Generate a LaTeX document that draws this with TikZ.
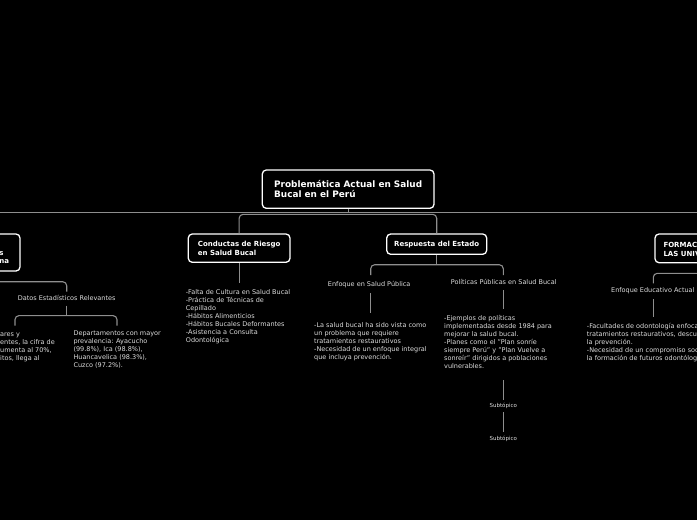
\documentclass[tikz,border=0pt]{standalone}
\usepackage{fontspec}
\setmainfont{DejaVu Sans}
\definecolor{fg}{HTML}{DDDDDD}
\definecolor{ln}{HTML}{8E8E8E}
\begin{document}
\begin{tikzpicture}[x=1pt,y=-1pt,
  box/.style={draw=white, line width=1.3pt, rounded corners=4pt, fill=black, text=white,
    font=\bfseries\fontsize{7}{9.4}\selectfont, align=left, inner sep=0pt},
  btxt/.style={text=white, font=\bfseries\fontsize{7}{9}\selectfont, align=left, inner sep=0pt, anchor=west},
  conn/.style={draw=ln, line width=1.1pt, rounded corners=4pt},
  lbl/.style={text=fg, font=\fontsize{6.5}{8}\selectfont, inner sep=0pt},
  txt/.style={text=fg, font=\fontsize{6.5}{8}\selectfont, align=left, inner sep=0pt, anchor=north west},
  subt/.style={text=fg, font=\fontsize{5.5}{6.5}\selectfont, inner sep=0pt}]
\fill[black] (0,0) rectangle (697,520);
\useasboundingbox (0,0) rectangle (697,520);
\begin{scope}
\clip (0,0) rectangle (697,520);
% coordinates
\coordinate (hL) at (-10,212.3);
\coordinate (hR) at (707,212.3);
\coordinate (rj) at (348.15,212.3);
\coordinate (bk) at (0,214.3);
\coordinate (condEnd) at (239.15,283);
\coordinate (bj) at (436.7,264.7);
\coordinate (b1) at (370.7,275);
\coordinate (b2) at (503.3,275);
\coordinate (e1) at (370.7,293.3);
\coordinate (e2) at (370.7,312.7);
\coordinate (p1) at (503.3,290);
\coordinate (p2) at (503.3,309);
\coordinate (p3) at (503.3,380);
\coordinate (p4) at (503.3,400);
\coordinate (q1) at (503.3,412.3);
\coordinate (q2) at (503.3,432.3);
\coordinate (lk) at (66.7,281.7);
\coordinate (lj) at (66.7,291.7);
\coordinate (d1) at (66.7,305.7);
\coordinate (sj) at (66.7,315.6);
\coordinate (s1) at (15,325.7);
\coordinate (s2) at (117,325.7);
\coordinate (rk) at (653.3,273.3);
\coordinate (rj2) at (653.3,283.3);
\coordinate (f1) at (653.3,299.3);
\coordinate (f2) at (653.3,316.7);

% boxes
\node[box, font=\bfseries\fontsize{8.9}{10.3}\selectfont, minimum width=171.7pt, minimum height=38.3pt] (root) at (348.15,189.15) {Problemática Actual en Salud\\Bucal en el Perú};
\node[box, minimum width=101.7pt, minimum height=28.3pt] (cond) at (239.15,248.15) {Conductas de Riesgo\\en Salud Bucal};
\node[box, minimum width=100pt, minimum height=20.3pt] (resp) at (436.7,244.15) {Respuesta del Estado};
\node[box, minimum width=100pt, minimum height=37pt] (lbox) at (-30,252.5) {};
\node[btxt, font=\bfseries\fontsize{7}{8.4}\selectfont] (ltxt) at (-0.8,257.6) {s\\na};
\node[box, minimum width=110pt, minimum height=28.7pt] (rbox) at (710,248.35) {};
\node[btxt] (rtxt) at (663.3,248.8) {FORMACIÓN EN\\LAS UNIVERSIDADES};

% connectors
\draw[conn] (root.south) -- (rj);
\draw[conn] (hL) -- (hR);
\draw[conn] (cond.north) |- (bk -| resp.north) -- (resp.north);
\draw[conn] (cond.south) -- (condEnd);
\draw[conn] (resp.south) -- (bj);
\draw[conn] (b1) |- (bj) -| (b2);
\draw[conn] (e1) -- (e2);
\draw[conn] (p1) -- (p2);
\draw[conn] (lbox.south) |- (lk) -- (lj);
\draw[conn] (d1) -- (sj);
\draw[conn] (s1) |- (sj) -| (s2);
\draw[conn] (rbox.south) |- (rk) -- (rj2);
\draw[conn] (f1) -- (f2);
\draw[conn] (p3) -- (p4);
\draw[conn] (q1) -- (q2);

% labels
\node[lbl] (datos) at (66.7,298) {Datos Estadísticos Relevantes};
\node[lbl] (enf) at (369.2,284.3) {Enfoque en Salud Pública};
\node[lbl] (pol) at (503.7,282.3) {Políticas Públicas en Salud Bucal};
\node[lbl] (edu) at (652.8,290.3) {Enfoque Educativo Actual};
\node[subt] (sub1) at (503.3,405.7) {Subtópico};
\node[subt] (sub2) at (503.3,439) {Subtópico};

% texts
\node[txt] (condTxt) at (185.7,289.2) {-Falta de Cultura en Salud Bucal\\-Práctica de Técnicas de\\Cepillado\\-Hábitos Alimenticios\\-Hábitos Bucales Deformantes\\-Asistencia a Consulta\\Odontológica};
\node[txt] (statR) at (73.3,330.9) {Departamentos con mayor\\prevalencia: Ayacucho\\(99.8\%), Ica (98.8\%),\\Huancavelica (98.3\%),\\Cuzco (97.2\%).};
\node[txt] (statL) at (0,332.3) {ares y\\entes, la cifra de\\umenta al 70\%,\\itos, llega al};
\node[txt] (enfTxt) at (314,321.9) {-La salud bucal ha sido vista como\\un problema que requiere\\tratamientos restaurativos\\-Necesidad de un enfoque integral\\que incluya prevención.};
\node[txt] (polTxt) at (444,315.2) {-Ejemplos de políticas\\implementadas desde 1984 para\\mejorar la salud bucal.\\-Planes como el "Plan sonríe\\siempre Perú" y "Plan Vuelve a\\sonreír" dirigidos a poblaciones\\vulnerables.};
\node[txt] (facTxt) at (586.7,323.4) {-Facultades de odontología enfocadas en\\tratamientos restaurativos, descuidando\\la prevención.\\-Necesidad de un compromiso social en\\la formación de futuros odontólogos.};
\end{scope}
\end{tikzpicture}
\end{document}
